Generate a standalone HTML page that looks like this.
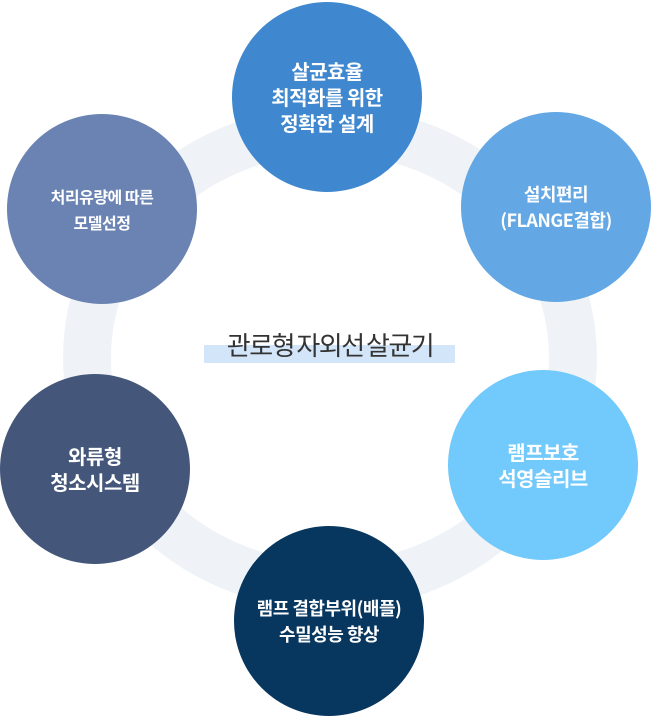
<!DOCTYPE html>
<html><head><meta charset="utf-8"><style>
html,body{margin:0;padding:0;background:#fff;}
body{width:652px;height:717px;position:relative;overflow:hidden;font-family:"Noto Sans CJK KR","Liberation Sans",sans-serif;}
.c{position:absolute;width:190px;height:190px;border-radius:50%;display:flex;align-items:center;justify-content:center;text-align:center;color:#fff;font-weight:bold;font-size:20px;line-height:26px;letter-spacing:-0.5px;}
.t{position:absolute;left:180px;top:328px;width:300px;text-align:center;font-size:26px;line-height:34px;color:#333;letter-spacing:-1.5px;word-spacing:-2px;}
.bar{position:absolute;left:204px;top:345px;width:251px;height:18px;background:#d3e5f8;}
</style></head><body>
<svg width="652" height="717" style="position:absolute;left:0;top:0">
<ellipse cx="330" cy="358" rx="243" ry="228" fill="none" stroke="#eff3f7" stroke-width="48"/>
</svg>
<div class="bar"></div>
<div class="t">관로형 자외선 살균기</div>
<div class="c" style="left:232px;top:2px;background:#3f88cf;">살균효율<br>최적화를 위한<br>정확한 설계</div>
<div class="c" style="left:461px;top:112px;background:#63a7e4;font-size:18px;">설치편리<br>(FLANGE결합)</div>
<div class="c" style="left:448px;top:370px;background:#72c9fc;">램프보호<br>석영슬리브</div>
<div class="c" style="left:234px;top:526px;background:#07365e;font-size:18px;">램프 결합부위(배플)<br>수밀성능 향상</div>
<div class="c" style="left:0px;top:374px;background:#44577b;">와류형<br>청소시스템</div>
<div class="c" style="left:7px;top:114px;background:#6a83b2;font-size:16px;">처리유량에 따른<br>모델선정</div>
</body></html>
